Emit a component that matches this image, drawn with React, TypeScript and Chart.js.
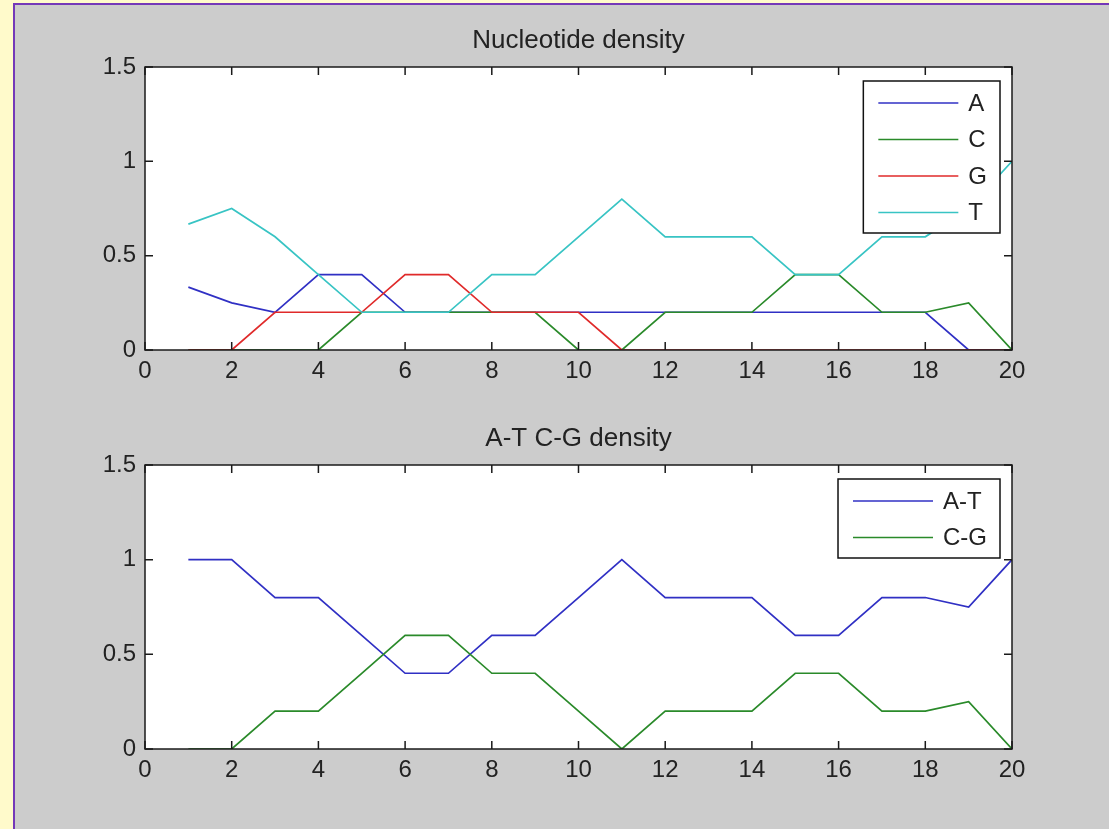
import React, { useEffect, useRef } from 'react';
import { Chart, registerables } from 'chart.js';

Chart.register(...registerables);

// ---------- data ----------
const positions = [1, 2, 3, 4, 5, 6, 7, 8, 9, 10, 11, 12, 13, 14, 15, 16, 17, 18, 19, 20];
const seqA = [0.333, 0.25, 0.2, 0.4, 0.4, 0.2, 0.2, 0.2, 0.2, 0.2, 0.2, 0.2, 0.2, 0.2, 0.2, 0.2, 0.2, 0.2, 0, 0];
const seqC = [0, 0, 0, 0, 0.2, 0.2, 0.2, 0.2, 0.2, 0, 0, 0.2, 0.2, 0.2, 0.4, 0.4, 0.2, 0.2, 0.25, 0];
const seqG = [0, 0, 0.2, 0.2, 0.2, 0.4, 0.4, 0.2, 0.2, 0.2, 0, 0, 0, 0, 0, 0, 0, 0, 0, 0];
const seqT = [0.667, 0.75, 0.6, 0.4, 0.2, 0.2, 0.2, 0.4, 0.4, 0.6, 0.8, 0.6, 0.6, 0.6, 0.4, 0.4, 0.6, 0.6, 0.75, 1];
const pairAT = [1, 1, 0.8, 0.8, 0.6, 0.4, 0.4, 0.6, 0.6, 0.8, 1, 0.8, 0.8, 0.8, 0.6, 0.6, 0.8, 0.8, 0.75, 1];
const pairCG = [0, 0, 0.2, 0.2, 0.4, 0.6, 0.6, 0.4, 0.4, 0.2, 0, 0.2, 0.2, 0.2, 0.4, 0.4, 0.2, 0.2, 0.25, 0];

const topTitle = 'Nucleotide density';
const bottomTitle = 'A-T C-G density';
const topLabels = ['A', 'C', 'G', 'T'];
const bottomLabels = ['A-T', 'C-G'];
const xTickValues = [0, 2, 4, 6, 8, 10, 12, 14, 16, 18, 20];
const yTickValues = [0, 0.5, 1, 1.5];

// ---------- styling ----------
const FONT = '"Liberation Sans", Arial, Helvetica, sans-serif';
const TEXT = '#222222';
const COLORS: Record<string, string> = {
  A: '#3030c4',
  C: '#2a8a2a',
  G: '#e02a2a',
  T: '#38c4c4',
  'A-T': '#3030c4',
  'C-G': '#2a8a2a',
};

const CANVAS_W = 1157; // symmetric margins (145 each side) so the title centres over the axes

const toPoints = (ys: number[]) => positions.map((x, i) => ({ x, y: ys[i] }));

const matlabFrame = {
  id: 'matlabFrame',
  beforeDraw(chart: any) {
    const { ctx, chartArea: a } = chart;
    ctx.save();
    ctx.fillStyle = '#ffffff';
    ctx.fillRect(a.left, a.top, a.right - a.left, a.bottom - a.top);
    ctx.restore();
  },
  afterDraw(chart: any) {
    const { ctx, chartArea: a, scales } = chart;
    const tl = 8;
    ctx.save();
    ctx.strokeStyle = '#1a1a1a';
    ctx.lineWidth = 1.5;
    ctx.beginPath();
    scales.x.ticks.forEach((t: any) => {
      const px = scales.x.getPixelForValue(t.value);
      ctx.moveTo(px, a.bottom);
      ctx.lineTo(px, a.bottom - tl);
      ctx.moveTo(px, a.top);
      ctx.lineTo(px, a.top + tl);
    });
    scales.y.ticks.forEach((t: any) => {
      const py = scales.y.getPixelForValue(t.value);
      ctx.moveTo(a.left, py);
      ctx.lineTo(a.left + tl, py);
      ctx.moveTo(a.right, py);
      ctx.lineTo(a.right - tl, py);
    });
    ctx.stroke();
    ctx.strokeRect(a.left, a.top, a.right - a.left, a.bottom - a.top);

    // legend (MATLAB style, inside upper-right corner)
    const ds = chart.data.datasets;
    ctx.font = `24px ${FONT}`;
    let maxW = 0;
    ds.forEach((d: any) => {
      maxW = Math.max(maxW, ctx.measureText(d.label).width);
    });
    const boxW = 105 + maxW + 13;
    const rowH = 36.5;
    const boxH = ds.length * rowH + 6;
    const bx = a.right - 12 - boxW;
    const by = a.top + 14;
    ctx.fillStyle = '#ffffff';
    ctx.fillRect(bx, by, boxW, boxH);
    ctx.strokeStyle = '#111111';
    ctx.lineWidth = 1.5;
    ctx.strokeRect(bx, by, boxW, boxH);
    ds.forEach((d: any, i: number) => {
      const cy = by + 22 + i * rowH;
      ctx.strokeStyle = d.borderColor;
      ctx.lineWidth = 1.6;
      ctx.beginPath();
      ctx.moveTo(bx + 15, cy);
      ctx.lineTo(bx + 95, cy);
      ctx.stroke();
      ctx.fillStyle = TEXT;
      ctx.textAlign = 'left';
      ctx.textBaseline = 'middle';
      ctx.fillText(d.label, bx + 105, cy + 1);
    });
    ctx.restore();
  },
};

function makeConfig(
  title: string,
  labels: string[],
  series: number[][],
  titlePadTop: number,
  titlePadBottom: number,
  xAxisHeight: number
): any {
  return {
    type: 'line',
    data: {
      datasets: labels.map((label, i) => ({
        label,
        data: toPoints(series[i]),
        borderColor: COLORS[label],
        backgroundColor: COLORS[label],
        borderWidth: 1.7,
        pointRadius: 0,
        tension: 0,
        fill: false,
        order: labels.length - i,
      })),
    },
    options: {
      responsive: false,
      animation: false,
      devicePixelRatio: 1,
      layout: { padding: 0 },
      plugins: {
        legend: { display: false },
        tooltip: { enabled: false },
        title: {
          display: true,
          text: title,
          color: TEXT,
          font: { family: FONT, size: 26, weight: 'normal', lineHeight: 1 },
          padding: { top: titlePadTop, bottom: titlePadBottom },
        },
      },
      scales: {
        x: {
          type: 'linear',
          min: 0,
          max: 20,
          afterBuildTicks: (s: any) => {
            s.ticks = xTickValues.map((v) => ({ value: v }));
          },
          ticks: {
            color: TEXT,
            font: { family: FONT, size: 24 },
            padding: 7,
            maxRotation: 0,
            callback: (v: any) => `${v}`,
          },
          grid: { display: false, drawTicks: false },
          border: { display: false },
          afterFit: (s: any) => {
            s.height = xAxisHeight;
          },
        },
        y: {
          type: 'linear',
          min: 0,
          max: 1.5,
          afterBuildTicks: (s: any) => {
            s.ticks = yTickValues.map((v) => ({ value: v }));
          },
          ticks: {
            color: TEXT,
            font: { family: FONT, size: 24 },
            padding: 9,
            callback: (v: any) => `${v}`,
          },
          grid: { display: false, drawTicks: false },
          border: { display: false },
          afterFit: (s: any) => {
            s.width = 145;
          },
        },
        yMirror: {
          type: 'linear',
          position: 'right',
          min: 0,
          max: 1.5,
          ticks: { display: false },
          grid: { display: false, drawTicks: false },
          border: { display: false },
          afterFit: (s: any) => {
            s.width = 145;
          },
        },
      },
    },
    plugins: [matlabFrame],
  };
}

export default function App() {
  const topRef = useRef<HTMLCanvasElement | null>(null);
  const bottomRef = useRef<HTMLCanvasElement | null>(null);

  useEffect(() => {
    document.body.style.margin = '0';
    const c1 = new Chart(
      topRef.current as HTMLCanvasElement,
      makeConfig(topTitle, topLabels, [seqA, seqC, seqG, seqT], 28, 13, 50)
    );
    const c2 = new Chart(
      bottomRef.current as HTMLCanvasElement,
      makeConfig(bottomTitle, bottomLabels, [pairAT, pairCG], 26, 13, 80)
    );
    return () => {
      c1.destroy();
      c2.destroy();
    };
  }, []);

  return (
    <div
      style={{
        position: 'absolute',
        left: 0,
        top: 0,
        width: 1109,
        height: 829,
        background: '#fffacb',
        overflow: 'hidden',
      }}
    >
      <div
        style={{
          position: 'absolute',
          left: 13,
          top: 3,
          width: 1109 - 13,
          height: 829 - 3,
          background: '#cccccc',
          borderLeft: '2px solid #7438b8',
          borderTop: '2px solid #7438b8',
          boxSizing: 'border-box',
        }}
      />
      <canvas
        ref={topRef}
        width={CANVAS_W}
        height={400}
        style={{ position: 'absolute', left: 0, top: 0, width: CANVAS_W, height: 400 }}
      />
      <canvas
        ref={bottomRef}
        width={CANVAS_W}
        height={429}
        style={{ position: 'absolute', left: 0, top: 400, width: CANVAS_W, height: 429 }}
      />
    </div>
  );
}
